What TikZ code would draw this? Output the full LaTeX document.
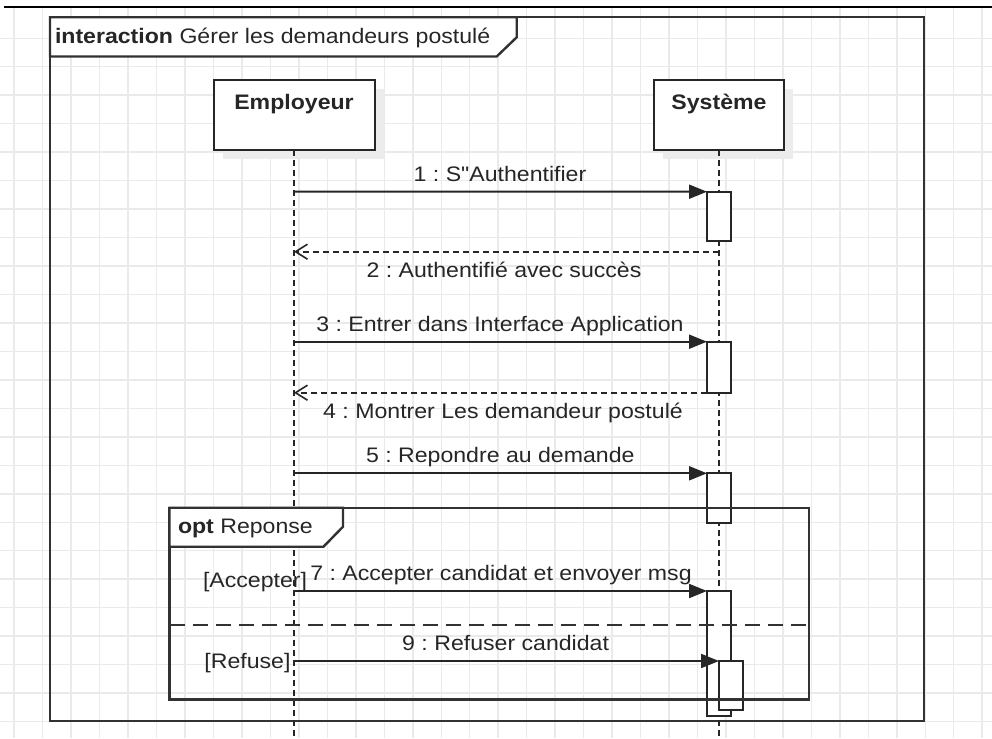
\documentclass[tikz,border=0pt]{standalone}
\usepackage{fontspec}
\setmainfont{Liberation Sans}[FakeStretch=1.1, Ligatures=TeXOff]
\usetikzlibrary{arrows.meta}
\definecolor{gridc}{RGB}{234,234,234}
\definecolor{framec}{RGB}{50,50,50}
\definecolor{shadowc}{RGB}{236,236,236}
\frenchspacing
\begin{document}
\begin{tikzpicture}[x=1pt,y=-1pt,
  every node/.style={font=\fontsize{21}{25}\selectfont, text=black!85, inner sep=0pt, outer sep=0pt},
  gridline/.style={draw=gridc, line width=1.5pt},
  framestyle/.style={draw=framec, line width=2.4pt, line join=miter},
  lifebox/.style={draw=black!85, line width=2pt, fill=white, minimum height=70pt},
  actbox/.style={draw=black!85, line width=2pt, fill=white, minimum width=24pt},
  msg/.style={draw=black!85, line width=2pt, -{Triangle[length=18pt,width=14pt]}},
  ret/.style={draw=black!85, line width=1.6pt, dash pattern=on 6pt off 4pt, -{Straight Barb[length=12pt,width=15pt,line width=1.6pt]}},
  lifeline/.style={draw=black!85, line width=1.4pt, dash pattern=on 6pt off 4pt},
  lbl/.style={anchor=base},
  sep/.style={draw=framec, line width=2.4pt, dash pattern=on 15pt off 8pt}
]
\useasboundingbox (0,0) rectangle (992,738);
\fill[white] (0,0) rectangle (992,738);
% grid
\foreach \i in {0,...,34} \draw[gridline] ({14.2+28.47*\i},8) -- ({14.2+28.47*\i},738);
\foreach \j in {1,...,25} \draw[gridline] (0,{9.8+28.47*\j}) -- (992,{9.8+28.47*\j});
% top rule
\draw[black, line width=2pt] (4,7) -- (992,7);
% main frame
\draw[framestyle] (50,17.3) rectangle (924,721);
\draw[framestyle, fill=white] (50,17.3) -- (516.7,17.3) -- (516.7,37.3) -- (496.7,56.5) -- (50,56.5) -- cycle;
\node[anchor=base west] (ttl) at (55,43.3) {\textbf{interaction} Gérer les demandeurs postulé};
% lifeline heads
\fill[shadowc] (223,89) rectangle (384,159);
\fill[shadowc] (663,89) rectangle (793,159);
\node[lifebox, minimum width=161pt] (emp) at (294,115) {};
\node[lbl, font=\fontsize{21}{25}\selectfont\bfseries] (empt) at (294,110) {Employeur};
\node[lifebox, minimum width=130pt] (sys) at (719,115) {};
\node[lbl, font=\fontsize{21}{25}\selectfont\bfseries] (syst) at (719,110) {Système};
\coordinate (empEnd) at (294,738);
\coordinate (sysEnd) at (719,738);
\draw[lifeline] (emp.south) -- (empEnd);
\draw[lifeline] (sys.south) -- (sysEnd);
% activations
\node[actbox, minimum height=49.3pt] (a1) at (719,216.35) {};
\node[actbox, minimum height=51pt] (a3) at (719,367.2) {};
\node[actbox, minimum height=50pt] (a5) at (719,498.3) {};
\node[actbox, minimum height=125pt] (a7) at (719,653.5) {};
\node[actbox, minimum height=49pt] (a9) at (731,685.5) {};
% messages
\coordinate (e1) at (294,191.7);
\draw[msg] (e1) -- (a1.north west);
\node[lbl] (l1) at (500,181.7) {1 : S"Authentifier};
\coordinate (s2) at (719,251.7);
\coordinate (e2) at (294,251.7);
\draw[ret] (s2) -- (e2);
\node[lbl] (l2) at (504,277.3) {2 : Authentifié avec succès};
\coordinate (e3) at (294,341.7);
\draw[msg] (e3) -- (a3.north west);
\node[lbl] (l3) at (500,331) {3 : Entrer dans Interface Application};
\coordinate (e4) at (294,392.7);
\draw[ret] (a3.south west) -- (e4);
\node[lbl] (l4) at (503,418.3) {4 : Montrer Les demandeur postulé};
\coordinate (e5) at (294,473.3);
\draw[msg] (e5) -- (a5.north west);
\node[lbl] (l5) at (500.3,462.7) {5 : Repondre au demande};
\coordinate (e7) at (294,591);
\draw[msg] (e7) -- (a7.north west);
\node[lbl] (l7) at (501,580) {7 : Accepter candidat et envoyer msg};
\coordinate (e9) at (294,661);
\draw[msg] (e9) -- (a9.north west);
\node[lbl] (l9) at (505.6,650) {9 : Refuser candidat};
% opt fragment
\draw[framestyle] (169.5,507.7) rectangle (809,699.3);
\draw[framestyle, fill=white] (169.5,507.7) -- (343,507.7) -- (343,526.7) -- (323.5,546.7) -- (169.5,546.7) -- cycle;
\node[anchor=base west] (optt) at (178,533.3) {\textbf{opt} Reponse};
\coordinate (sepL) at (169.5,625);
\coordinate (sepR) at (809,625);
\draw[sep] (sepL) -- (sepR);
\node[lbl] (g1) at (255,587.5) {[Accepter]};
\node[lbl] (g2) at (247.5,668) {[Refuse]};
\end{tikzpicture}
\end{document}
